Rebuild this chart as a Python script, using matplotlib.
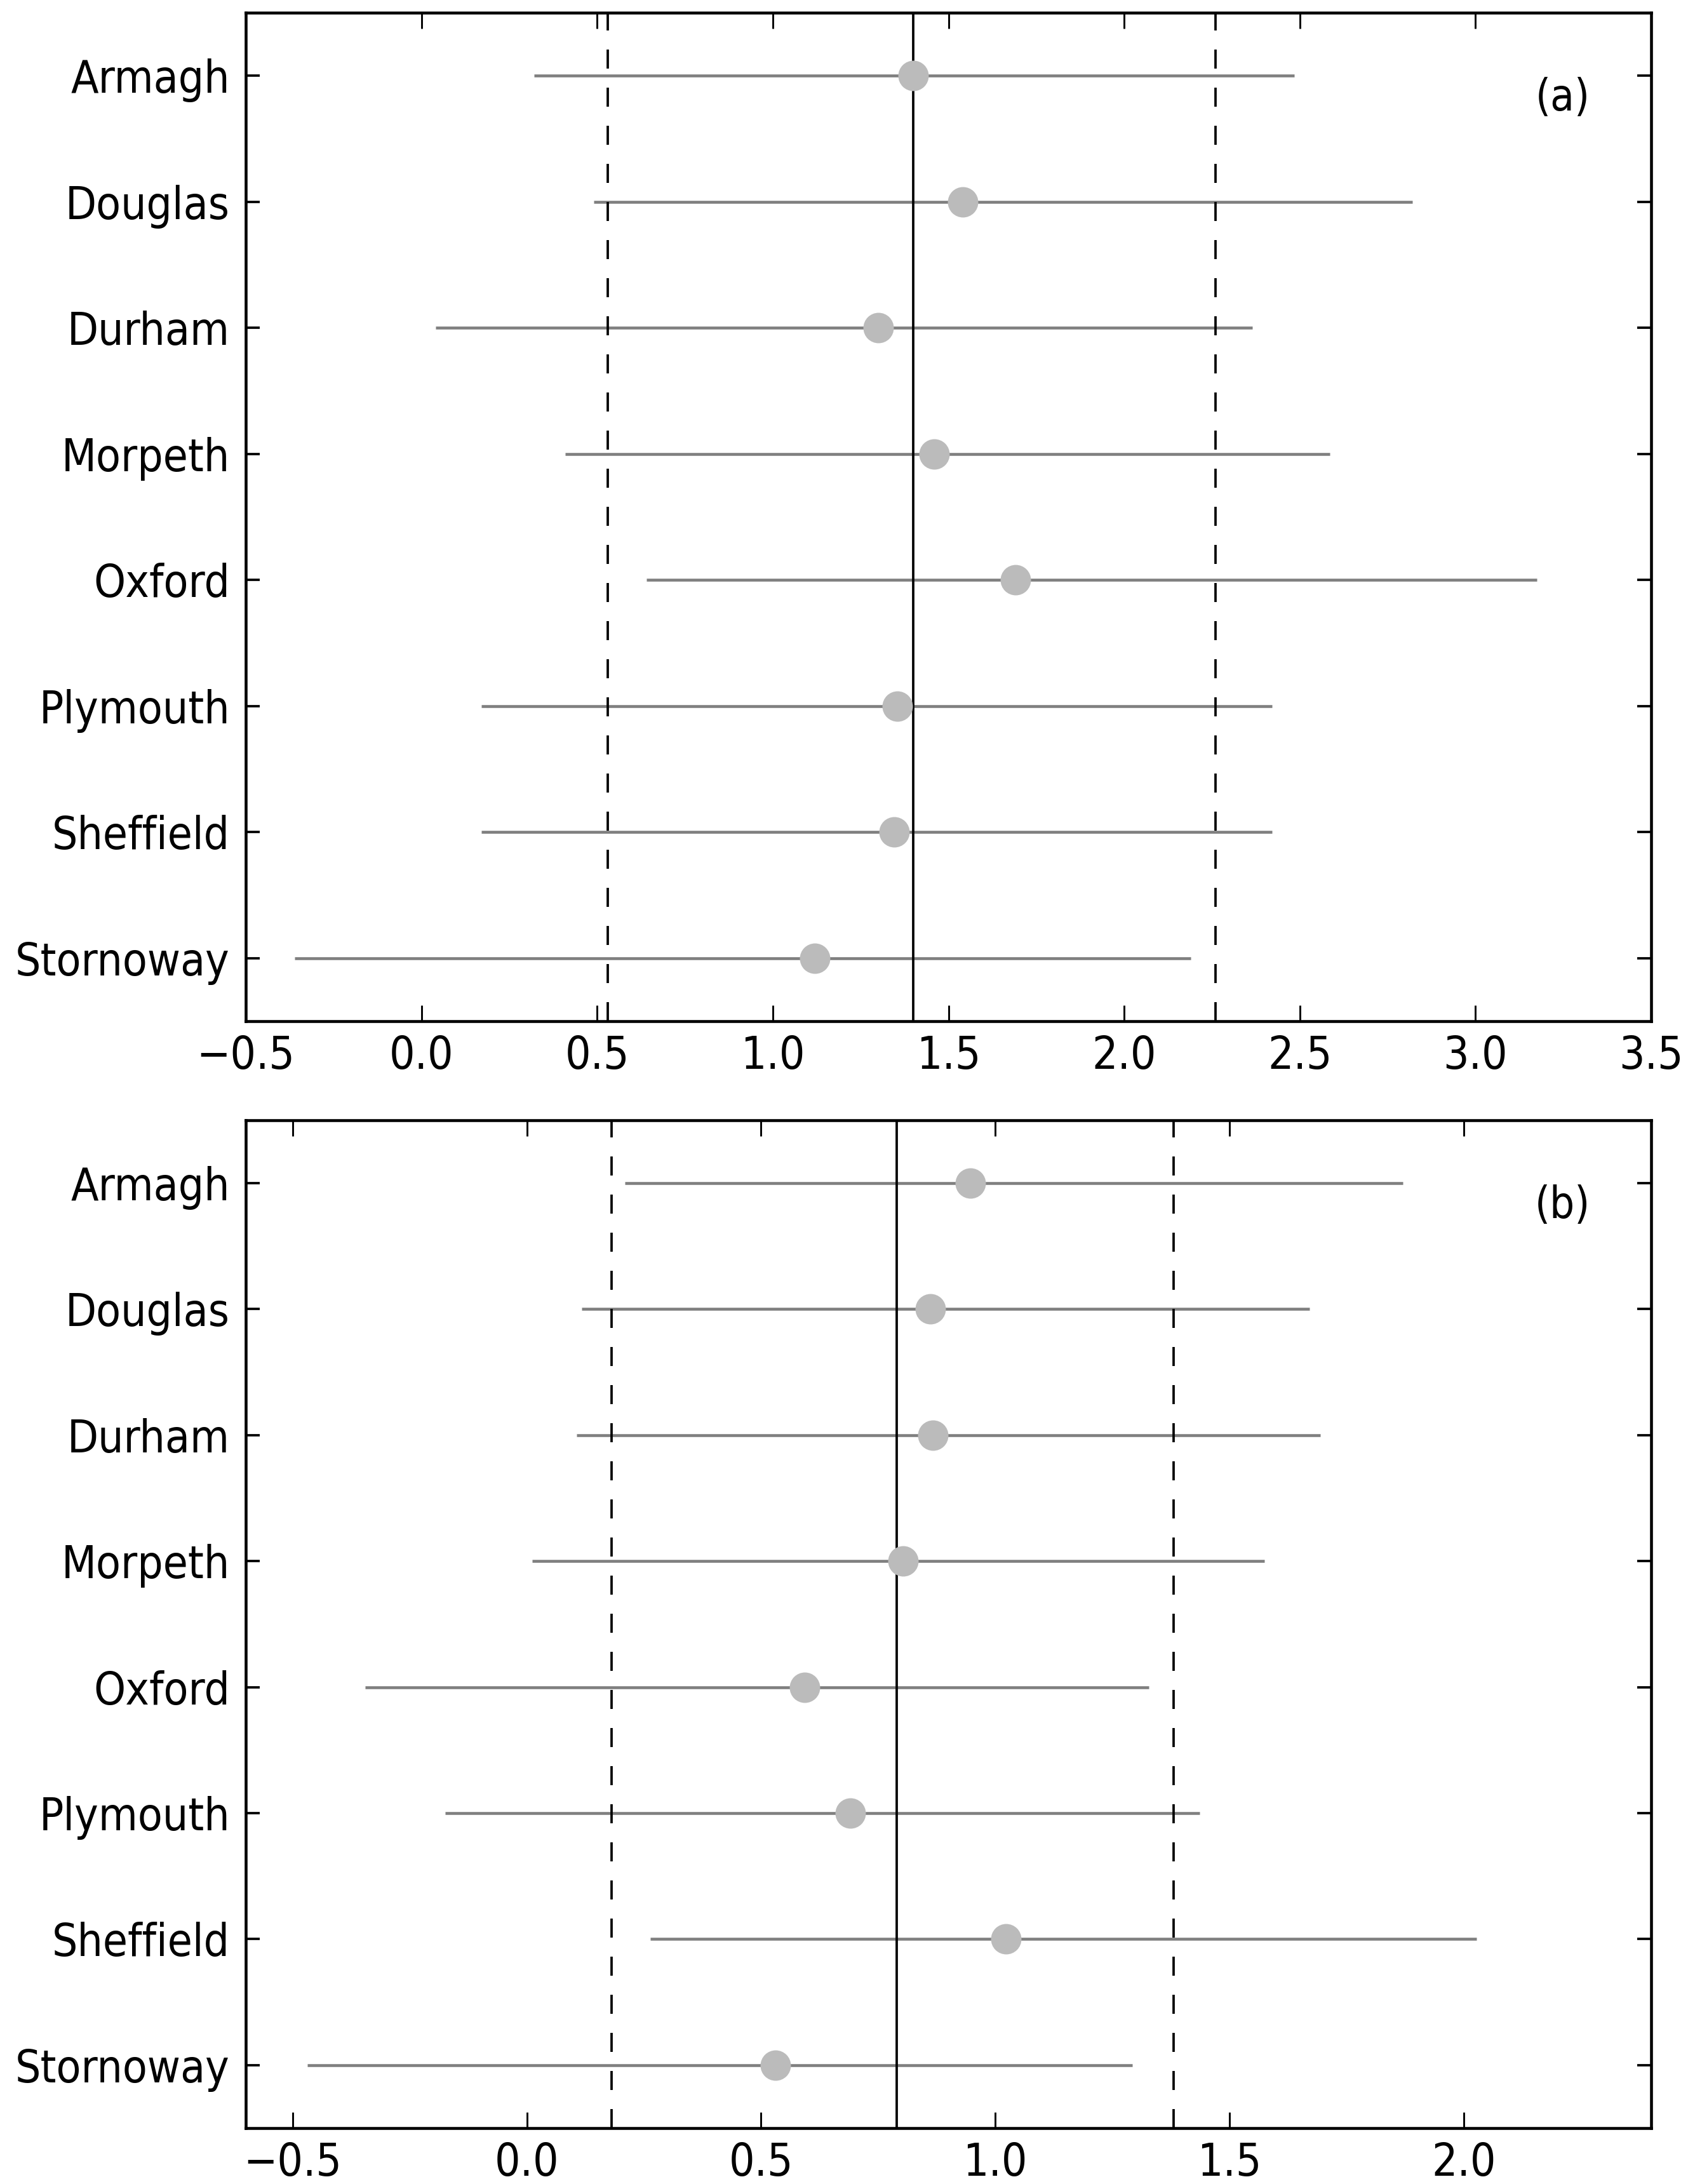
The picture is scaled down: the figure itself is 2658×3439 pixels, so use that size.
import matplotlib
matplotlib.use('Agg')
import matplotlib.pyplot as plt
import numpy as np

# station names, top to bottom
stations = ['Armagh', 'Douglas', 'Durham', 'Morpeth', 'Oxford', 'Plymouth', 'Sheffield', 'Stornoway']

# panel (a): point estimate and interval per station
a_est = [1.40, 1.54, 1.30, 1.46, 1.69, 1.355, 1.345, 1.12]
a_lo = [0.32, 0.49, 0.04, 0.41, 0.64, 0.17, 0.17, -0.36]
a_hi = [2.485, 2.82, 2.365, 2.585, 3.175, 2.42, 2.42, 2.19]
a_mean = 1.40
a_band = [0.53, 2.26]
a_xticks = [-0.5, 0.0, 0.5, 1.0, 1.5, 2.0, 2.5, 3.0, 3.5]

# panel (b)
b_est = [0.947, 0.861, 0.867, 0.803, 0.593, 0.690, 1.023, 0.530]
b_lo = [0.209, 0.117, 0.106, 0.011, -0.345, -0.175, 0.263, -0.468]
b_hi = [1.870, 1.671, 1.693, 1.575, 1.328, 1.436, 2.027, 1.292]
b_mean = 0.789
b_band = [0.181, 1.380]
b_xticks = [-0.5, 0.0, 0.5, 1.0, 1.5, 2.0]

plt.rcParams['font.family'] = 'DejaVu Sans'
plt.rcParams['font.stretch'] = 'condensed'

fig = plt.figure(figsize=(2658 / 300, 3439 / 300), dpi=300)
ax_a = fig.add_axes([0.1456, 0.5324, 0.8326, 0.4618])
ax_b = fig.add_axes([0.1456, 0.0256, 0.8326, 0.4615])


def draw_panel(ax, est, lo, hi, mean, band, xticks, xlim, tag):
    y = np.arange(len(stations))
    ax.hlines(y, lo, hi, color='#7f7f7f', lw=1.1, zorder=2)
    ax.axvline(mean, color='black', lw=0.9, zorder=3)
    for b in band:
        ax.axvline(b, color='black', lw=0.9, linestyle=(0, (8, 8)), zorder=3)
    ax.plot(est, y, 'o', color='#bbbbbb', mec='#bbbbbb', ms=10.5, zorder=4)

    ax.set_xlim(xlim)
    ax.set_ylim(len(stations) - 0.5, -0.5)
    ax.set_xticks(xticks)
    ax.set_xticklabels(['%.1f' % t if t >= 0 else '\u2212%.1f' % -t for t in xticks])
    ax.set_yticks(y)
    ax.set_yticklabels(stations)

    ax.tick_params(axis='x', which='major', direction='in', top=True, bottom=True,
                   length=6, width=0.7, pad=5, labelsize=17)
    ax.tick_params(axis='y', which='major', direction='in', left=True, right=True,
                   length=5.3, width=0.9, pad=6, labelsize=17)
    for s in ax.spines.values():
        s.set_linewidth(1.1)

    ax.text(0.937, 0.915, tag, transform=ax.transAxes, ha='center', va='center',
            fontsize=16.5)


draw_panel(ax_a, a_est, a_lo, a_hi, a_mean, a_band, a_xticks, (-0.5, 3.5), '(a)')
draw_panel(ax_b, b_est, b_lo, b_hi, b_mean, b_band, b_xticks, (-0.6, 2.4), '(b)')

fig.savefig('out.png', dpi=300, facecolor='white')
